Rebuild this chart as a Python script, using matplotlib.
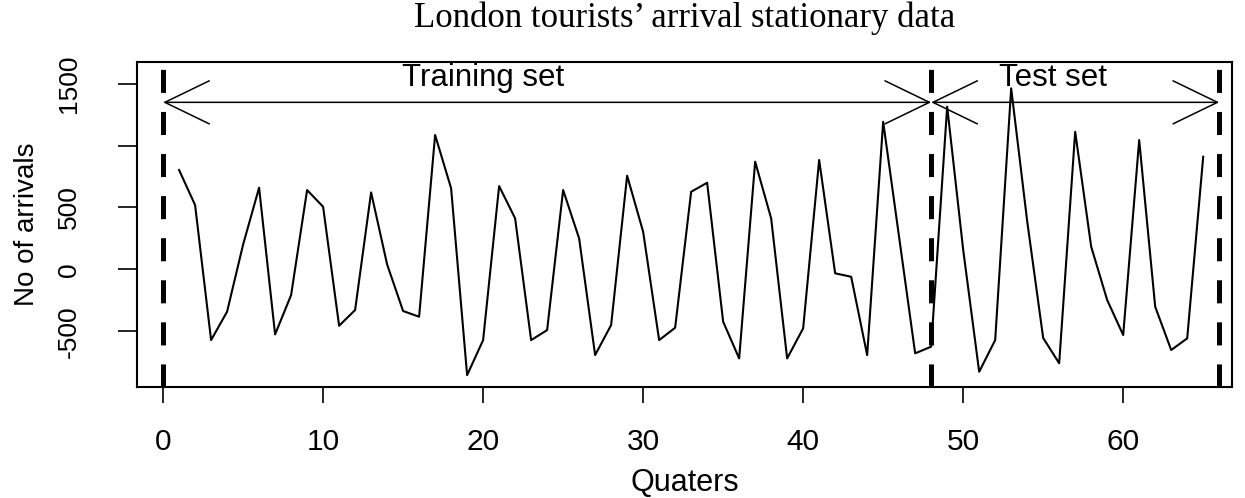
import matplotlib
matplotlib.use("Agg")
import matplotlib.pyplot as plt
import numpy as np

# ---- data ----
quarters = list(range(1, 66))
arrivals = [803, 520, -572, -342, 200, 660, -526, -208, 641, 506,
            -456, -329, 622, 40, -337, -383, 1086, 655, -855, -572,
            673, 412, -572, -491, 641, 250, -693, -450, 757, 304,
            -572, -472, 627, 700, -423, -720, 870, 412, -720, -477,
            884, -32, -60, -693, 1193, 257, -679, -625, 1315, 159,
            -828, -572, 1463, 390, -555, -759, 1112, 183, -248, -531,
            1045, -302, -652, -558, 910]
split_lines = [0, 48, 66]
arrow_level = 1350
train_label = "Training set"
test_label = "Test set"
x_ticks = [0, 10, 20, 30, 40, 50, 60]
y_ticks = [-500, 0, 500, 1000, 1500]
y_tick_labels = ["-500", "0", "500", "", "1500"]

plt.rcParams['font.family'] = ['Liberation Sans', 'DejaVu Sans']
plt.rcParams['lines.scale_dashes'] = False

fig = plt.figure(figsize=(12.45, 4.98), dpi=100)
ax = fig.add_axes([137/1245, 1-387/498, (1232-137)/1245, (387-62)/498])

ax.plot(quarters, arrivals, color='black', lw=1.5)

for xv in split_lines:
    ax.axvline(xv, color='black', lw=3.6, dashes=(16.6, 13.7), solid_capstyle='butt')

arrow_kw = dict(arrowstyle='<->,head_length=32,head_width=15.5', color='black',
                lw=1.1, shrinkA=0, shrinkB=0, mutation_scale=1)
ax.annotate('', xy=(split_lines[1], arrow_level), xytext=(split_lines[0], arrow_level),
            arrowprops=arrow_kw)
ax.annotate('', xy=(split_lines[2], arrow_level), xytext=(split_lines[1], arrow_level),
            arrowprops=arrow_kw)

ax.text(20, 1545, train_label, ha='center', va='center', fontsize=22.5)
ax.text(55.6, 1545, test_label, ha='center', va='center', fontsize=22.5)

ax.set_xlim(-1.63, 66.8)
ax.set_ylim(-951, 1676)
ax.set_xticks(x_ticks)
ax.set_xticklabels([str(t) for t in x_ticks], fontsize=21.5)
ax.set_yticks(y_ticks)
ax.set_yticklabels(y_tick_labels, fontsize=19, rotation=90, va='center')

ax.tick_params(axis='x', length=11.5, width=1.2, pad=18, direction='out')
ax.tick_params(axis='y', length=13.5, width=1.2, pad=27, direction='out')

for sp in ax.spines.values():
    sp.set_linewidth(1.5)

ax.set_xlabel("Quaters", fontsize=22, labelpad=8.5)
ax.set_ylabel("No of arrivals", fontsize=20, labelpad=12)
ax.set_title("London tourists\u2019 arrival stationary data", fontsize=25,
             family=['Liberation Serif', 'DejaVu Serif'], pad=25)

fig.savefig("out.png", dpi=100)
